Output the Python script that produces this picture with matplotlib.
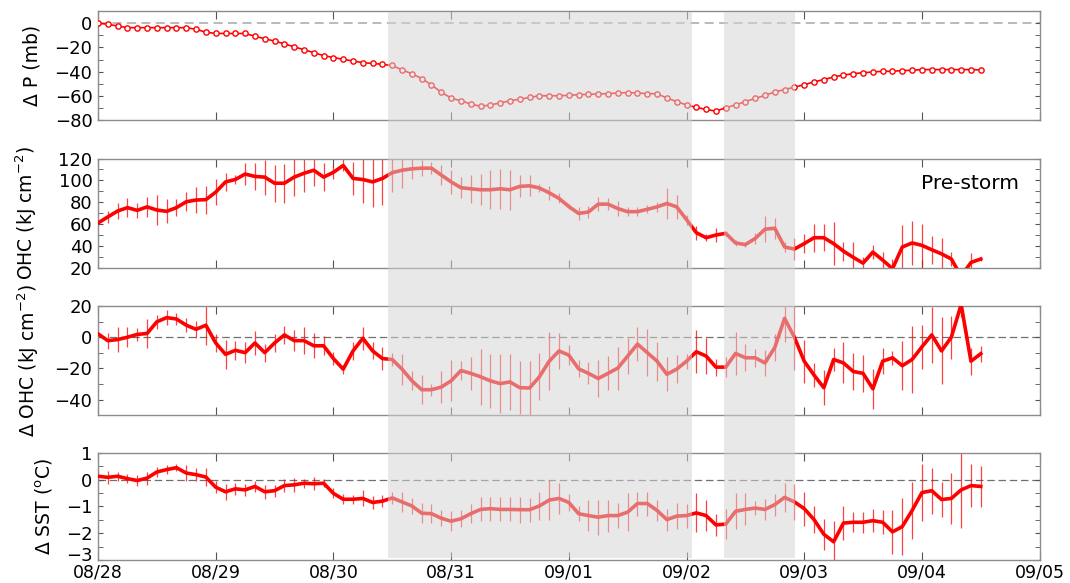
import numpy as np
import matplotlib
matplotlib.use("Agg")
import matplotlib.pyplot as plt
from matplotlib.patches import Rectangle
from matplotlib.transforms import blended_transform_factory, ScaledTranslation
from matplotlib.ticker import MultipleLocator

plt.rcParams["font.family"] = ["DejaVu Sans"]

# time axis: days since 08/28 00:00, one sample every 2 hours
hours = np.arange(0, 182, 2)
days = hours / 24.0

day_labels = ["08/28", "08/29", "08/30", "08/31", "09/01",
              "09/02", "09/03", "09/04", "09/05"]

# storm periods (days since 08/28)
shade_spans = [(2.46, 5.045), (5.316, 5.924)]

dp = [0, -0.9, -2.3, -3.7, -3.7, -3.7, -3.7, -3.7, -3.7, -3.7,
      -5.1, -7.4, -8.5, -8.5, -8.5, -8.5, -10.8, -12.8, -14.8, -17.0,
      -19.6, -21.8, -24.4, -26.7, -28.4, -29.8, -31.2, -32.6, -33.2, -34.0,
      -34.9, -38.6, -41.7, -45.7, -51.0, -57.0, -61.8, -64.1, -66.7, -68.7,
      -67.5, -65.8, -64.1, -62.7, -61.3, -59.9,
      -59.9, -59.9, -59.6, -59.0, -58.7, -58.4, -58.2, -57.6,
      -57.3, -57.6, -58.2, -58.2, -61.8,
      -64.7, -67.5, -69.5, -71.2, -72.6, -69.8,
      -67.5, -64.7, -62.1, -59.6, -56.7, -54.8, -52.8, -50.8, -48.5, -46.5,
      -44.5, -42.8, -41.7, -40.9, -40.3, -39.7, -39.7, -39.1, -38.9, -38.3,
      -38.3, -38.3, -38.3, -38.3, -38.3, -38.6]

ohc = [60.9, 66.5, 71.9, 75.0, 72.5, 75.7, 72.8, 71.6, 75.0, 80.4,
       82.0, 82.3, 89.2, 98.6, 100.8, 105.8, 103.6, 103.0, 97.4, 97.4,
       103.0, 106.5, 109.3, 103.0, 107.4, 113.7, 101.8, 100.8, 98.6, 101.8,
       107.1, 109.3, 110.6, 111.2, 111.2, 104.9, 98.6, 93.3, 92.3, 91.4,
       91.4, 92.3, 91.4, 94.5, 95.0, 93.0,
       88.6, 83.5, 76.0, 69.7, 71.0, 78.2, 78.2, 74.1, 71.3, 71.3,
       73.5, 75.7, 78.8, 75.7, 64.0, 52.0, 47.4, 49.9, 51.4, 42.6,
       41.1, 46.7, 55.2, 56.1, 38.9, 37.0, 42.0, 47.4, 47.4, 42.0,
       35.1, 29.4, 24.1, 34.2, 26.9, 19.0, 38.9, 42.6, 40.4, 36.4,
       32.6, 27.9, 12.0, 24.7, 27.9]

ohc_err = [3, 5.5, 7, 9, 7, 9.5, 14, 11, 8, 8.5,
           12, 13, 12, 8, 4, 10, 12.5, 16, 17, 18,
           17, 17, 14.5, 12.5, 6, 5.5, 15, 22, 23, 24,
           18, 16, 9.5, 7.5, 5.5, 9.5, 11, 9.5, 13, 14,
           18, 18.5, 18.5, 10, 9.5, 3.5,
           6.5, 4.7, 2.5, 6.3, 5.5, 6.3, 5.5, 7, 4, 4.2,
           3.5, 4.7, 14, 11, 4.7, 6.3, 3, 6.7, 2, 3,
           2.5, 5, 12, 9.7, 4.7, 10, 8.6, 13, 12.6, 19.6,
           8.6, 14, 6, 6.3, 7, 9, 20, 20, 19.6, 13,
           15, 6, 8, 8.7, 2]

dohc = [2.2, -2.2, -1.5, 0.0, 1.8, 2.4, 9.9, 12.6, 11.7, 7.7,
        5.1, 7.7, -3.7, -11.0, -8.4, -9.9, -3.7, -9.9, -3.7, 1.5,
        -2.2, -2.2, -5.5, -5.5, -13.7, -20.5, -8.8, -0.7, -8.8, -13.7,
        -14.3, -20.5, -28.0, -33.7, -33.7, -32.0, -28.0, -21.4, -23.2, -25.4,
        -28.0, -29.8, -28.7, -32.4, -32.6, -25.4,
        -15.4, -8.8, -11.5, -20.3, -23.2, -26.5, -23.2, -19.8, -12.1, -4.4,
        -9.9, -15.4, -23.8, -20.5, -15.4, -9.3, -12.1, -19.2, -19.2, -10.4,
        -13.2, -13.2, -16.5, -6.6, 12.1, 0.0, -15.4, -24.3, -32.4, -14.3,
        -16.5, -22.0, -23.2, -33.1, -15.4, -13.2, -18.3, -14.3, -6.2, 1.5,
        -8.8, 0.0, 21.0, -15.4, -10.6]

dohc_err = [2, 5.2, 8, 6.5, 4, 9, 4.5, 5, 4, 4.5,
            5.5, 12.5, 6, 9.5, 6, 6.6, 7.4, 5.7, 5.5, 6,
            6.8, 8.8, 8, 6, 4.4, 2.8, 6, 7.4, 5.5, 7.2,
            4.4, 10, 6, 9.4, 3.9, 10.5, 13.2, 6, 10.5, 18,
            17.3, 19, 18.2, 17, 17.4, 15,
            18.7, 11.7, 6.6, 5.5, 7, 12, 11, 13.8, 11.6, 11,
            15.2, 12.5, 11, 9, 4.7, 13.9, 11.6, 5.5, 6.3, 14,
            8.8, 5.8, 8.3, 8.8, 15, 21, 13.8, 7.7, 11.4, 7.4,
            13.2, 11.6, 12, 12.7, 8.3, 4.4, 15.8, 21.4, 14.3, 18.2,
            21.5, 13.8, 8, 8.6, 5.2]

dsst = [0.13, 0.09, 0.13, 0.04, -0.03, 0.06, 0.29, 0.38, 0.45, 0.25,
        0.19, 0.10, -0.28, -0.45, -0.34, -0.38, -0.25, -0.45, -0.41, -0.22,
        -0.19, -0.13, -0.15, -0.13, -0.51, -0.73, -0.73, -0.70, -0.85, -0.80,
        -0.68, -0.83, -0.98, -1.25, -1.27, -1.44, -1.55, -1.46, -1.27, -1.11,
        -1.08, -1.11, -1.11, -1.12, -1.12, -0.98,
        -0.76, -0.70, -0.85, -1.27, -1.34, -1.40, -1.34, -1.34, -1.21, -0.89,
        -0.89, -1.15, -1.49, -1.36, -1.34, -1.24, -1.34, -1.69, -1.66, -1.18,
        -1.11, -1.06, -1.11, -0.93, -0.66, -0.83, -1.08, -1.49, -2.04, -2.32,
        -1.62, -1.59, -1.59, -1.53, -1.59, -1.95, -1.75, -1.15, -0.48, -0.41,
        -0.74, -0.70, -0.38, -0.22, -0.25]

dsst_err = [0.19, 0.24, 0.16, 0.17, 0.19, 0.24, 0.19, 0.16, 0.13, 0.29,
            0.25, 0.35, 0.22, 0.29, 0.22, 0.22, 0.22, 0.27, 0.22, 0.25,
            0.27, 0.17, 0.24, 0.16, 0.19, 0.19, 0.16, 0.30, 0.24, 0.22,
            0.22, 0.38, 0.29, 0.38, 0.35, 0.29, 0.37, 0.32, 0.35, 0.45,
            0.45, 0.45, 0.45, 0.48, 0.45, 0.54,
            0.76, 0.57, 0.32, 0.29, 0.57, 0.65, 0.60, 0.48, 0.70, 0.45,
            0.45, 0.38, 0.41, 0.50, 0.45, 0.73, 0.57, 0.41, 0.57, 0.67,
            0.60, 0.25, 0.38, 0.41, 0.54, 0.67, 0.64, 0.51, 0.57, 0.76,
            0.64, 0.38, 0.39, 0.43, 0.45, 0.83, 1.08, 1.08, 1.08, 0.86,
            0.67, 0.96, 1.42, 0.80, 0.78]

fig = plt.figure(figsize=(10.7, 5.83), dpi=100)
left, width = 0.0916, 0.880
bottoms = [0.794, 0.541, 0.288, 0.0395]
heights = [0.187, 0.187, 0.187, 0.1835]
axes = [fig.add_axes([left, b, width, h]) for b, h in zip(bottoms, heights)]
ax1, ax2, ax3, ax4 = axes

red = "#ff0000"
label_size = 13.5

ax1.axhline(0, color="#b4b4b4", lw=1.3, ls=(0, (5, 3)), zorder=1)
ax1.plot(days, dp, color=red, lw=1.2, marker="o", ms=3.8, mfc="white",
         mec=red, mew=1.0, zorder=3)
ax1.set_ylim(-80, 10)
ax1.yaxis.set_major_locator(MultipleLocator(20))
ax1.yaxis.set_minor_locator(MultipleLocator(10))
ax1.set_ylabel("Δ P (mb)", fontsize=label_size, va="center")

ax2.errorbar(days, ohc, yerr=ohc_err, fmt="none", ecolor=red, elinewidth=0.9,
             alpha=0.75, capsize=0, zorder=2)
ax2.plot(days, ohc, color=red, lw=2.6, zorder=3)
ax2.set_ylim(20, 120)
ax2.yaxis.set_major_locator(MultipleLocator(20))
ax2.yaxis.set_minor_locator(MultipleLocator(10))
ax2.set_ylabel("OHC (kJ cm$^{-2}$)", fontsize=label_size, va="center")
ax2.text(0.978, 0.77, "Pre-storm", transform=ax2.transAxes, ha="right",
         va="center", fontsize=14.5)

ax3.axhline(0, color="#707070", lw=0.9, ls=(0, (6, 3)), zorder=1)
ax3.errorbar(days, dohc, yerr=dohc_err, fmt="none", ecolor=red, elinewidth=0.9,
             alpha=0.75, capsize=0, zorder=2)
ax3.plot(days, dohc, color=red, lw=2.6, zorder=3)
ax3.set_ylim(-50, 20)
ax3.yaxis.set_major_locator(MultipleLocator(20))
ax3.yaxis.set_minor_locator(MultipleLocator(10))
ax3.set_ylabel("Δ OHC (kJ cm$^{-2}$)", fontsize=label_size, va="center")

ax4.axhline(0, color="#707070", lw=0.9, ls=(0, (6, 3)), zorder=1)
ax4.errorbar(days, dsst, yerr=dsst_err, fmt="none", ecolor=red, elinewidth=0.9,
             alpha=0.75, capsize=0, zorder=2)
ax4.plot(days, dsst, color=red, lw=2.6, zorder=3)
ax4.set_ylim(-3, 1)
ax4.set_yticks([-3, -2, -1, 0, 1])
ax4.yaxis.set_minor_locator(MultipleLocator(0.5))
ax4.set_ylabel("Δ SST ($^{\\rm o}$C)", fontsize=label_size, va="center")

label_x = [-0.070, -0.0764, -0.0738, -0.0568]
for ax, lx in zip(axes, label_x):
    ax.set_xlim(0, 8)
    ax.set_xticks(range(9))
    ax.yaxis.set_label_coords(lx, 0.5)
    for s in ax.spines.values():
        s.set_color("#8c8c8c")
        s.set_linewidth(1.0)
    ax.tick_params(which="both", direction="in", top=True, right=True,
                   colors="#555555", labelcolor="black", labelsize=13)
    ax.tick_params(axis="x", which="major", length=6, pad=2.5)
    ax.tick_params(axis="y", which="both", length=3.5, pad=4)
    if ax is not ax4:
        ax.set_xticklabels([])
ax4.set_xticklabels(day_labels, fontsize=12.5)

# lift the lowest SST label a little so it clears the date labels
low = ax4.yaxis.get_major_ticks()[0].label1
low.set_transform(low.get_transform()
                  + ScaledTranslation(0, 6 / 100, fig.dpi_scale_trans))

# storm periods shaded across all panels, laid over the curves
trans = blended_transform_factory(ax4.transData, fig.transFigure)
y0 = bottoms[-1] + 0.003
y1 = bottoms[0] + heights[0] - 0.002
for a, b in shade_spans:
    fig.patches.append(Rectangle((a, y0), b - a, y1 - y0, transform=trans,
                                 facecolor="#d4d4d4", edgecolor="none",
                                 alpha=0.52, zorder=10))

fig.savefig("out.png", dpi=100)
plt.close(fig)
